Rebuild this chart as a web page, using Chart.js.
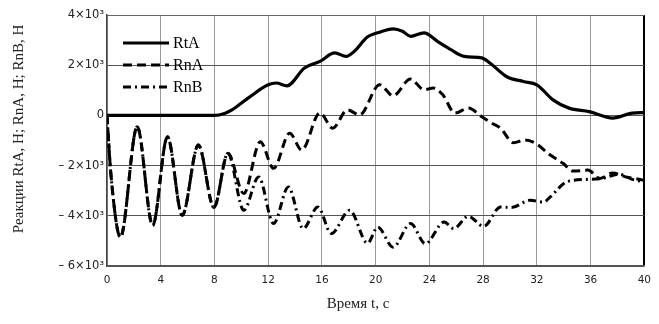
<!DOCTYPE html>
<html>
<head>
<meta charset="utf-8">
<script src="https://cdn.jsdelivr.net/npm/chart.js@4.4.0/dist/chart.umd.min.js"></script>
<style>
  html, body { margin: 0; padding: 0; background: #fff; }
  #wrap { width: 659px; height: 324px; }
</style>
</head>
<body>
<div id="wrap"><canvas id="chart" width="659" height="324"></canvas></div>
<script>
// Time points and values (t in s, values in N)
const rtaT = [0, 8.0, 8.8, 9.3, 10.5, 12.0, 12.6, 13.4, 14.7, 15.85, 16.95, 17.8, 18.4, 19.4, 20.15, 21.3, 22.0, 22.6, 23.6, 24.6, 25.6, 26.6, 27.9, 28.5, 29.8, 31.0, 32.0, 33.2, 34.4, 35.9, 37.65, 39.1, 40];
const rtaV = [0, 0, 90, 220, 690, 1220, 1290, 1180, 1890, 2150, 2490, 2350, 2550, 3130, 3290, 3450, 3350, 3150, 3290, 2950, 2620, 2350, 2290, 2090, 1530, 1350, 1220, 620, 290, 150, -110, 90, 110];

const rnaT = [0, 0.3, 1.0, 2.25, 3.4, 4.5, 5.6, 6.8, 7.96, 9.0, 10.18, 11.41, 12.4, 13.6, 14.5, 15.85, 16.8, 17.9, 18.8, 20.3, 21.3, 22.6, 23.6, 24.3, 25.0, 25.9, 26.9, 27.9, 28.65, 29.3, 30.26, 31.1, 31.9, 33.0, 33.95, 34.7, 35.8, 36.7, 37.65, 38.6, 39.9, 40];
const rnaV = [0, -2400, -4850, -450, -4380, -850, -3980, -1180, -3670, -1510, -3110, -1050, -2110, -710, -1380, 100, -510, 220, 20, 1220, 780, 1450, 1020, 1090, 820, 90, 290, -50, -310, -510, -1090, -980, -1110, -1580, -1910, -2220, -2180, -2510, -2290, -2450, -2580, -2600];

const rnbT = [0, 0.3, 1.0, 2.25, 3.4, 4.5, 5.6, 6.8, 7.96, 9.0, 10.18, 11.29, 12.4, 13.5, 14.6, 15.7, 16.7, 18.06, 19.4, 20.15, 21.3, 22.6, 23.7, 25.1, 25.8, 26.9, 28.04, 29.3, 30.1, 31.5, 32.5, 33.0, 34.2, 35.7, 36.9, 38.1, 39.1, 40];
const rnbV = [0, -2400, -4850, -450, -4380, -850, -3980, -1180, -3670, -1510, -3780, -2450, -4310, -2850, -4510, -3650, -4710, -3780, -5090, -4450, -5250, -4310, -5110, -4250, -4510, -4020, -4420, -3650, -3670, -3380, -3450, -3250, -2650, -2550, -2510, -2340, -2550, -2650];

const seriesNames = ["RtA", "RnA", "RnB"];
const xTicks = [0, 4, 8, 12, 16, 20, 24, 28, 32, 36, 40];
const yTicks = [-6000, -4000, -2000, 0, 2000, 4000];
const yTickLabels = ["\u2013 6\u00d710\u00b3", "\u2013 4\u00d710\u00b3", "\u2013 2\u00d710\u00b3", "0", "2\u00d710\u00b3", "4\u00d710\u00b3"];
const xTitle = "Время t, с";
const yTitle = "Реакции RtA, Н; RnA, Н; RnB, Н";

function pts(t, v) {
  return t.map((x, i) => ({ x: x, y: v[i] }));
}

const dashes = [[], [9, 5], [8, 4, 2, 4]];

// legend drawn inside the plot, top-left
const innerLegend = {
  id: "innerLegend",
  afterDatasetsDraw(chart) {
    const ctx = chart.ctx;
    ctx.save();
    const rows = [43, 65, 87];
    chart.data.datasets.forEach((ds, i) => {
      ctx.strokeStyle = "#000";
      ctx.lineWidth = 3;
      ctx.setLineDash(dashes[i]);
      ctx.beginPath();
      ctx.moveTo(123, rows[i]);
      ctx.lineTo(169, rows[i]);
      ctx.stroke();
      ctx.setLineDash([]);
      ctx.fillStyle = "#000";
      ctx.font = "16px 'Liberation Serif'";
      ctx.textBaseline = "middle";
      ctx.fillText(ds.label, 173, rows[i] + 1);
    });
    ctx.restore();
  },
};

// axis titles
const axisTitles = {
  id: "axisTitles",
  afterDraw(chart) {
    const ctx = chart.ctx;
    ctx.save();
    ctx.fillStyle = "#222";
    ctx.font = "15px 'Liberation Serif'";
    ctx.textAlign = "center";
    ctx.textBaseline = "middle";
    ctx.fillText(xTitle, 358, 304);
    ctx.translate(19, 129);
    ctx.rotate(-Math.PI / 2);
    ctx.fillText(yTitle, 0, 0);
    ctx.restore();
  },
};

new Chart(document.getElementById("chart"), {
  type: "line",
  data: {
    datasets: [
      { label: seriesNames[0], data: pts(rtaT, rtaV), borderColor: "#000", borderWidth: 3.2, borderDash: dashes[0] },
      { label: seriesNames[1], data: pts(rnaT, rnaV), borderColor: "#000", borderWidth: 3, borderDash: dashes[1] },
      { label: seriesNames[2], data: pts(rnbT, rnbV), borderColor: "#000", borderWidth: 3, borderDash: dashes[2] },
    ],
  },
  options: {
    responsive: false,
    animation: false,
    layout: { padding: { top: 15, right: 10, left: 0, bottom: 0 } },
    elements: {
      point: { radius: 0 },
      line: { cubicInterpolationMode: "monotone", borderCapStyle: "butt" },
    },
    plugins: {
      legend: { display: false },
      tooltip: { enabled: false },
    },
    scales: {
      x: {
        type: "linear",
        min: 0,
        max: 40,
        afterBuildTicks: (s) => { s.ticks = xTicks.map((v) => ({ value: v })); },
        afterFit: (s) => { s.height = 58; },
        ticks: {
          padding: 8,
          color: "#222",
          font: { family: "'DejaVu Sans'", size: 10.5 },
          maxRotation: 0,
        },
        grid: {
          drawTicks: false,
          color: (c) => (c.tick && c.tick.value === 40 ? "#000" : "#999"),
          lineWidth: (c) => (c.tick && c.tick.value === 40 ? 2 : 1),
        },
        border: { color: "#555", width: 1.5 },
      },
      y: {
        min: -6000,
        max: 4000,
        afterBuildTicks: (s) => { s.ticks = yTicks.map((v) => ({ value: v })); },
        afterFit: (s) => { s.width = 107; },
        ticks: {
          padding: 3,
          color: "#222",
          font: { family: "'DejaVu Sans'", size: 11.5 },
          callback: (v) => yTickLabels[yTicks.indexOf(v)],
        },
        grid: {
          drawTicks: false,
          color: (c) => (c.tick && c.tick.value === 4000 ? "#666" : "#555"),
        },
        border: { color: "#444", width: 1.5 },
      },
    },
  },
  plugins: [innerLegend, axisTitles],
});
</script>
</body>
</html>
